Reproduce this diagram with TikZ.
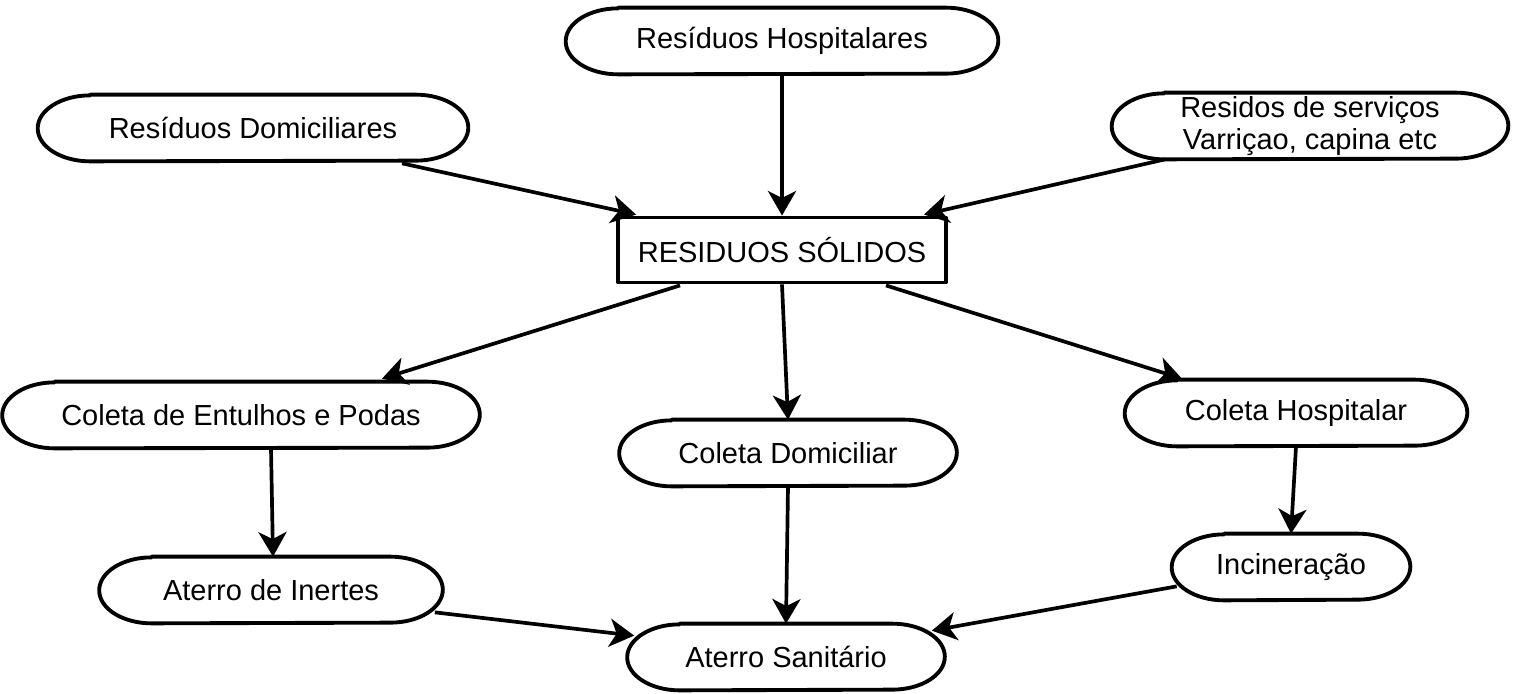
\documentclass[tikz,border=0pt]{standalone}
\usepackage{fontspec}
\setmainfont{Liberation Sans}
\usetikzlibrary{arrows.meta, calc}

\begin{document}
\begin{tikzpicture}[x=0.02cm, y=-0.02cm, line join=round,
    every node/.style={font=\fontsize{16.5}{18.5}\selectfont},
    oval/.style={inner sep=0pt, minimum height=1.32cm,
        append after command={\pgfextra{
            \draw[line width=2.2pt] ([xshift=1.05cm]\tikzlastnode.north west)
                -- ([xshift=-1.05cm]\tikzlastnode.north east)
                arc[start angle=90, end angle=-90, x radius=1.05cm, y radius=0.66cm]
                -- ([xshift=1.05cm]\tikzlastnode.south west)
                arc[start angle=270, end angle=90, x radius=1.05cm, y radius=0.66cm]
                -- cycle;}}},
    box/.style={draw, line width=2.2pt, inner sep=0pt, fill=white},
    flow/.style={-{Stealth[length=14pt, width=16pt, inset=4pt]}, line width=2.1pt}
]

% ---------------- canvas, white ----------------
\fill[white] (0,0) rectangle (1514,693);
\useasboundingbox (0,0) rectangle (1514,693);

% ---------------- sources ----------------
\node[oval, minimum width=8.64cm] (hosp) at (782,41) {Resíduos Hospitalares};
\node[oval, minimum width=8.6cm] (domi) at (253,128) {Resíduos Domiciliares};
\node[oval, minimum width=7.92cm, align=center] (serv) at (1310,126)
    {Residos de serviços\\Varriçao, capina etc};

% ---------------- centre ----------------
\node[box, minimum width=6.56cm, minimum height=1.3cm] (rs) at (782,250) {RESIDUOS SÓLIDOS};

% ---------------- collection ----------------
\node[oval, minimum width=9.54cm] (entu) at (241,415) {Coleta de Entulhos e Podas};
\node[oval, minimum width=6.74cm] (cdom) at (788,453) {Coleta Domiciliar};
\node[oval, minimum width=6.84cm] (chos) at (1296,413) {Coleta Hospitalar};

% ---------------- destinations ----------------
\node[oval, minimum width=6.86cm] (iner) at (271,590) {Aterro de Inertes};
\node[oval, minimum width=4.76cm] (inci) at (1291,567) {Incineração};
\node[oval, minimum width=6.34cm] (sani) at (786,657) {Aterro Sanitário};

% ---------------- arrows ----------------
\draw[flow] ($(domi.south)+(149,2)$) -- ($(rs.north west)+(20,-1)$);
\draw[flow] (hosp.south) -- (rs.north);
\draw[flow] ($(serv.south)+(-145,0)$) -- ($(rs.north east)+(-24,-1)$);

\draw[flow] ($(rs.south)+(-102,1)$) -- ($(entu.north)+(141,-3)$);
\draw[flow] (rs.south) -- (cdom.north);
\draw[flow] ($(rs.south)+(104,1)$) -- ($(chos.north)+(-114,-1)$);

\draw[flow] ($(entu.south)+(30,0)$) -- ($(iner.north)+(2,0)$);
\draw[flow] (cdom.south) -- (sani.north);
\draw[flow] (chos.south) -- (inci.north);

\draw[flow] ($(iner.south east)+(-8,-11)$) -- ($(sani.north west)+(7,12)$);
\draw[flow] ($(inci.south west)+(5,-14)$) -- ($(sani.north east)+(-13,7)$);

\end{tikzpicture}
\end{document}
